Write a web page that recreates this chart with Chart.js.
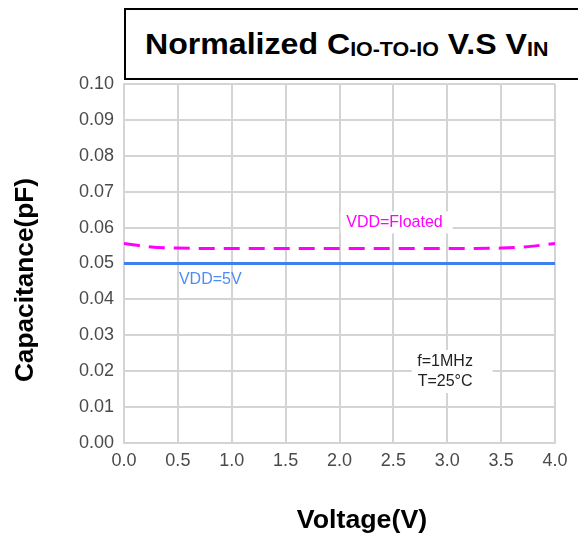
<!DOCTYPE html>
<html>
<head>
<meta charset="utf-8">
<title>Normalized C IO-TO-IO V.S VIN</title>
<script src="https://cdn.jsdelivr.net/npm/chart.js@4.4.1/dist/chart.umd.min.js"></script>
<style>
  body { margin: 0; background: #fff; }
  #wrap { position: relative; width: 578px; height: 540px; overflow: hidden; }
  #chart { position: absolute; left: 0; top: 0; }
  #title-box {
    position: absolute; left: 124px; top: 8px; width: 470px; height: 68px;
    border: 2.5px solid #000; background: #fff;
  }
  #title-text {
    position: absolute; left: 19px; top: 19px; white-space: nowrap;
    font: bold 30px "Liberation Sans", Arial, sans-serif; line-height: 30px; color: #000;
    transform: scaleX(1.07); transform-origin: left center;
  }
  #title-text span { font-size: 20px; vertical-align: -2px; }
</style>
</head>
<body>
<div id="wrap">
  <canvas id="chart" width="578" height="540"></canvas>
  <div id="title-box"><div id="title-text">Normalized C<span>IO-TO-IO</span> V.S V<span>IN</span></div></div>
</div>
<script>
// ---------- data ----------
const voltage = [0, 0.25, 0.5, 0.75, 1.0, 1.25, 1.5, 1.75, 2.0, 2.25, 2.5, 2.75, 3.0, 3.25, 3.5, 3.75, 4.0];
const capFloated = [0.0556, 0.0546, 0.0543, 0.0542, 0.0542, 0.0542, 0.0542, 0.0542, 0.0542, 0.0542, 0.0542, 0.0542, 0.0542, 0.0542, 0.0543, 0.0547, 0.0556];
const cap5V = [0.05, 0.05, 0.05, 0.05, 0.05, 0.05, 0.05, 0.05, 0.05, 0.05, 0.05, 0.05, 0.05, 0.05, 0.05, 0.05, 0.05];
const xTickLabels = ['0.0', '0.5', '1.0', '1.5', '2.0', '2.5', '3.0', '3.5', '4.0'];
const yTickLabels = ['0.00', '0.01', '0.02', '0.03', '0.04', '0.05', '0.06', '0.07', '0.08', '0.09', '0.10'];

const toPoints = (ys) => voltage.map((v, i) => ({ x: v, y: ys[i] }));

const FONT = '"Liberation Sans", Arial, sans-serif';
const GRID = '#d4d4d4';

//------------labels inside the plot + axis titles------------
const notes = {
  id: 'notes',
  beforeDatasetsDraw(chart) {
    const { ctx, scales: { x, y } } = chart;
    ctx.save();
    ctx.fillStyle = '#fff';
    // white patches behind the text blocks
    ctx.fillRect(x.getPixelForValue(2.01), y.getPixelForValue(0.0645), 112, 22);
    ctx.fillRect(x.getPixelForValue(2.67), y.getPixelForValue(0.0259), 81, 43);

    ctx.font = '16px ' + FONT;
    ctx.textBaseline = 'middle';
    ctx.textAlign = 'center';
    ctx.fillStyle = '#ff00ff';
    ctx.fillText('VDD=Floated', x.getPixelForValue(2.51), y.getPixelForValue(0.0614));
    ctx.fillStyle = '#222';
    ctx.fillText('f=1MHz', x.getPixelForValue(2.98), y.getPixelForValue(0.0228));
    ctx.fillText('T=25°C', x.getPixelForValue(2.98), y.getPixelForValue(0.0172));
    ctx.textAlign = 'left';
    ctx.fillStyle = '#4d8cf5';
    ctx.fillText('VDD=5V', x.getPixelForValue(0.51), y.getPixelForValue(0.0456));
    ctx.restore();
  },
  afterDraw(chart) {
    const { ctx } = chart;
    ctx.save();
    ctx.fillStyle = '#000';
    ctx.textAlign = 'center';
    ctx.textBaseline = 'middle';
    ctx.font = 'bold 25px ' + FONT;
    ctx.save();
    ctx.translate(362, 521);
    ctx.scale(1.07, 1);
    ctx.fillText('Voltage(V)', 0, 0);
    ctx.restore();
    ctx.translate(26, 280);
    ctx.rotate(-Math.PI / 2);
    ctx.scale(1.05, 1);
    ctx.fillText('Capacitance(pF)', 0, 0);
    ctx.restore();
  }
};

const ctx = document.getElementById('chart').getContext('2d');

const myChart = new Chart(ctx, {
  type: 'line',
  data: {
    datasets: [
      {
        label: 'VDD=Floated',
        data: toPoints(capFloated),
        borderColor: '#ff00ff',
        borderWidth: 3,
        borderDash: [16, 9],
        pointRadius: 0,
        cubicInterpolationMode: 'monotone',
        fill: false
      },
      {
        label: 'VDD=5V',
        data: toPoints(cap5V),
        borderColor: '#3d80ee',
        borderWidth: 3,
        pointRadius: 0,
        fill: false
      }
    ]
  },
  options: {
    responsive: false,
    animation: false,
    layout: { padding: { top: 84, right: 23, left: 0, bottom: 0 } },
    plugins: {
      legend: { display: false },
      tooltip: { enabled: false }
    },
    scales: {
      x: {
        type: 'linear',
        min: 0,
        max: 4,
        afterFit: (scale) => { scale.height = 97; },
        afterBuildTicks: (scale) => {
          scale.ticks = xTickLabels.map((t) => ({ value: parseFloat(t) }));
        },
        ticks: {
          padding: 7,
          color: '#4a4a4a',
          font: { family: FONT, size: 18 },
          callback: (v, i) => xTickLabels[i]
        },
        grid: { color: GRID, lineWidth: 2, drawTicks: false },
        border: { color: GRID, width: 2 }
      },
      y: {
        min: 0,
        max: 0.1,
        afterFit: (scale) => { scale.width = 124; },
        afterBuildTicks: (scale) => {
          scale.ticks = yTickLabels.map((t) => ({ value: parseFloat(t) }));
        },
        ticks: {
          padding: 10,
          color: '#4a4a4a',
          font: { family: FONT, size: 18 },
          callback: (v, i) => yTickLabels[i]
        },
        grid: { color: GRID, lineWidth: 2, drawTicks: false },
        border: { color: GRID, width: 2 }
      }
    }
  },
  plugins: [notes]
});
</script>
</body>
</html>
